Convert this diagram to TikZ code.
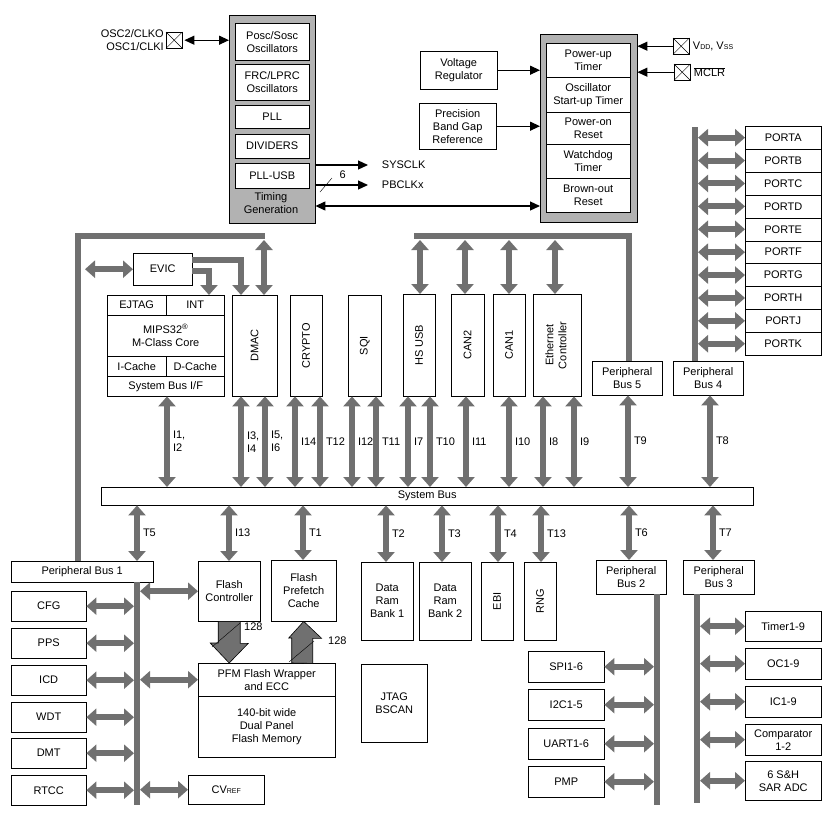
\documentclass[tikz,border=0pt]{standalone}
\usepackage{fontspec}
\setmainfont{Liberation Sans}
\usetikzlibrary{arrows.meta}
\definecolor{busgray}{RGB}{112,112,112}
\definecolor{boxgray}{RGB}{178,178,178}
\begin{document}
\begin{tikzpicture}[x=1pt, y=-1pt, font=\fontsize{11}{13}\selectfont,
    blk/.style={draw, align=center, inner sep=1pt, anchor=north west},
    bus/.style={busgray, line width=6pt, {Triangle[width=17pt,length=10pt]}-{Triangle[width=17pt,length=10pt]}},
    trunk/.style={busgray, line width=6pt},
    feed/.style={busgray, line width=6pt, -{Triangle[width=17pt,length=10pt]}},
    sig/.style={line width=1.2pt, -{Triangle[width=9pt,length=10pt]}},
    fat/.style={fill=busgray, draw=black, line width=0.6pt},
    xpin/.style={draw, minimum size=16pt, inner sep=0, anchor=north west}]
    \useasboundingbox (0,0) rectangle (837,825);

    % clock block
    \node[blk, fill=boxgray, minimum width=86pt, minimum height=208pt] (tgen) at (229,15) {};
    \node[blk, fill=white, minimum width=74pt, minimum height=37pt] (posc) at (235,23) {Posc/Sosc\\Oscillators};
    \node[blk, fill=white, minimum width=74pt, minimum height=36pt] (frc) at (235,64) {FRC/LPRC\\Oscillators};
    \node[blk, fill=white, minimum width=74pt, minimum height=23pt] (pll) at (235,105) {PLL};
    \node[blk, fill=white, minimum width=74pt, minimum height=24pt] (div) at (235,134) {DIVIDERS};
    \node[blk, fill=white, minimum width=74pt, minimum height=25pt] (pllusb) at (235,163) {PLL-USB};
    \node[align=center, inner sep=0] (tlabel) at (271,203) {Timing\\Generation};
    \node[xpin] (xosc) at (166,32) {};
    \draw (xosc.north west) -- (xosc.south east) (xosc.south west) -- (xosc.north east);
    \node[anchor=east, align=right, inner sep=2pt] (osc) at (xosc.west) {OSC2/CLKO\\OSC1/CLKI};
    \draw[sig, {Triangle[width=9pt,length=10pt]}-{Triangle[width=9pt,length=10pt]}] ([xshift=2pt]xosc.east) -- (tgen.west |- xosc.east);
    \coordinate (sysclk) at (368,165);
    \coordinate (pbclk) at (368,185);
    \draw[sig] (tgen.east |- sysclk) -- (sysclk) node[right=10pt] (sysclkt) {SYSCLK};
    \draw[sig] (tgen.east |- pbclk) -- (pbclk) node[right=10pt] (pbclkt) {PBCLKx};
    \draw (320,192) -- (332,178) node[anchor=south west, xshift=4pt, yshift=-4pt] (six) {6};

    % reset block
    \node[blk, fill=boxgray, minimum width=97pt, minimum height=188pt] (rst) at (540,34) {};
    \node[blk, fill=white, minimum width=84pt, minimum height=34pt] (pwrup) at (546,43) {Power-up\\Timer};
    \node[blk, fill=white, minimum width=84pt, minimum height=35pt] (ost) at (546,77) {Oscillator\\Start-up Timer};
    \node[blk, fill=white, minimum width=84pt, minimum height=32pt] (por) at (546,112) {Power-on\\Reset};
    \node[blk, fill=white, minimum width=84pt, minimum height=34pt] (wdtm) at (546,144) {Watchdog\\Timer};
    \node[blk, fill=white, minimum width=84pt, minimum height=34pt] (bor) at (546,178) {Brown-out\\Reset};
    \node[blk, minimum width=77pt, minimum height=38pt] (vreg) at (420,51) {Voltage\\Regulator};
    \node[blk, minimum width=77pt, minimum height=46pt] (pbg) at (419,103) {Precision\\Band Gap\\Reference};
    \draw[sig] (vreg.east) -- (rst.west |- vreg.east);
    \draw[sig] (pbg.east) -- (rst.west |- pbg.east);
    \draw[sig, {Triangle[width=9pt,length=10pt]}-{Triangle[width=9pt,length=10pt]}] (tgen.east |- 0,206) -- (rst.west |- 0,206);
    \node[xpin] (xvdd) at (673,38) {};
    \draw (xvdd.north west) -- (xvdd.south east) (xvdd.south west) -- (xvdd.north east);
    \node[anchor=west] (vdd) at (xvdd.east) {V{\scriptsize DD}, V{\scriptsize SS}};
    \node[xpin] (xmclr) at (674,64) {};
    \draw (xmclr.north west) -- (xmclr.south east) (xmclr.south west) -- (xmclr.north east);
    \node[anchor=west] (mclr) at (xmclr.east) {$\overline{\mbox{MCLR}}$};
    \draw[sig] (xvdd.west) -- (rst.east |- xvdd.west);
    \draw[sig] (xmclr.west) -- (rst.east |- xmclr.west);

    % ports
    \foreach \p [count=\i from 0] in {A,B,C,D,E,F,G,H,J,K} {
        \node[blk, minimum width=76pt, minimum height=22.9pt] (port\p) at (745,126+22.9*\i) {PORT\p};
        \draw[bus] (698,0 |- port\p.west) -- (port\p.west);
    }
    \node[blk, minimum width=70pt, minimum height=34pt] (pb4) at (673,361) {Peripheral\\Bus 4};
    \node[blk, minimum width=70pt, minimum height=34pt] (pb5) at (592,361) {Peripheral\\Bus 5};
    \draw[trunk] (695,0 |- pb4.north) -- (695,127);

    % upper modules
    \node[blk, minimum width=32pt, minimum height=102pt] (hsusb) at (403,294) {\rotatebox{90}{HS USB}};
    \node[blk, minimum width=33pt, minimum height=102pt] (can2) at (451,294) {\rotatebox{90}{CAN2}};
    \node[blk, minimum width=32pt, minimum height=102pt] (can1) at (493,294) {\rotatebox{90}{CAN1}};
    \node[blk, minimum width=48pt, minimum height=102pt] (eth) at (533,294) {\rotatebox{90}{\begin{tabular}{@{}c@{}}Ethernet\\Controller\end{tabular}}};
    \node[blk, minimum width=59pt, minimum height=32pt] (evic) at (133,253) {EVIC};
    \node[blk, minimum width=59pt, minimum height=20pt] (ejtag) at (107,295) {EJTAG};
    \node[blk, minimum width=58pt, minimum height=20pt] (int) at (166,295) {INT};
    \node[blk, minimum width=117pt, minimum height=41pt] (mips) at (107,315) {MIPS32\textsuperscript{\textregistered}\\M-Class Core};
    \node[blk, minimum width=59pt, minimum height=20pt] (icache) at (107,356) {I-Cache};
    \node[blk, minimum width=58pt, minimum height=20pt] (dcache) at (166,356) {D-Cache};
    \node[blk, minimum width=117pt, minimum height=20pt] (sbif) at (107,376) {System Bus I/F};
    \node[blk, minimum width=45pt, minimum height=101pt] (dmac) at (232,295) {\rotatebox{90}{DMAC}};
    \node[blk, minimum width=32pt, minimum height=101pt] (crypto) at (290,295) {\rotatebox{90}{CRYPTO}};
    \node[blk, minimum width=33pt, minimum height=101pt] (sqi) at (348,295) {\rotatebox{90}{SQI}};
    \node[blk, minimum width=652pt, minimum height=18pt] (sysbus) at (101,487) {System Bus};

    \draw[trunk] (78,561) -- (78,236) -- (265,236);
    \draw[trunk] (414,236) -- (629,236) -- (629,0 |- pb5.north);
    \draw[bus] (evic.west) -- (85,0 |- evic.west);
    \draw[feed] (evic.east |- 0,260) -- (241,260) -- (241,0 |- dmac.north);
    \draw[feed] (evic.east |- 0,271) -- (209,271) -- (209,0 |- int.north);
    \foreach \x/\m in {264/dmac, 420/hsusb, 465/can2, 509/can1, 555/eth}
        \draw[bus] (\x,240) -- (\x,0 |- \m.north);

    % module to system bus
    \foreach \x/\m/\lab in {167/sbif/{I1,\\I2}, 241/dmac/{I3,\\I4}, 265/dmac/{I5,\\I6}, 295/crypto/I14, 320/crypto/T12,
        352/sqi/I12, 376/sqi/T11, 408/hsusb/I7, 430/hsusb/T10, 466/can2/I11, 509/can1/I10, 543/eth/I8, 574/eth/I9,
        628/pb5/T9, 710/pb4/T8}
        \draw[bus] (\x,0 |- \m.south) -- (\x,0 |- sysbus.north)
            node[midway, right=3pt, black, align=left, inner sep=0] {\lab};

    % lower modules
    \node[blk, minimum width=142pt, minimum height=21pt] (pb1) at (11,561) {Peripheral Bus 1};
    \node[blk, minimum width=62pt, minimum height=60pt] (fctrl) at (198,561) {Flash\\Controller};
    \node[blk, minimum width=65pt, minimum height=61pt] (fpc) at (271,560) {Flash\\Prefetch\\Cache};
    \node[blk, minimum width=52pt, minimum height=78pt] (ram1) at (361,562) {Data\\Ram\\Bank 1};
    \node[blk, minimum width=52pt, minimum height=78pt] (ram2) at (419,562) {Data\\Ram\\Bank 2};
    \node[blk, minimum width=32pt, minimum height=78pt] (ebi) at (481,562) {\rotatebox{90}{EBI}};
    \node[blk, minimum width=32pt, minimum height=78pt] (rng) at (524,562) {\rotatebox{90}{RNG}};
    \node[blk, minimum width=70pt, minimum height=34pt] (pb2) at (596,560) {Peripheral\\Bus 2};
    \node[blk, minimum width=71pt, minimum height=34pt] (pb3) at (683,560) {Peripheral\\Bus 3};
    \foreach \x/\m/\lab in {137/pb1/T5, 229/fctrl/I13, 303/fpc/T1, 386/ram1/T2, 442/ram2/T3, 498/ebi/T4,
        541/rng/T13, 629/pb2/T6, 713/pb3/T7}
        \draw[bus] (\x,0 |- sysbus.south) -- (\x,0 |- \m.north)
            node[midway, right=3pt, black, inner sep=0] {\lab};

    \node[blk, minimum width=137pt, minimum height=33pt] (pfm) at (198,663) {PFM Flash Wrapper\\and ECC};
    \node[blk, minimum width=137pt, minimum height=61pt] (fmem) at (198,696) {140-bit wide\\Dual Panel\\Flash Memory};
    \node[blk, minimum width=66pt, minimum height=78pt] (jtag) at (361,664) {JTAG\\BSCAN};
    \filldraw[fat] ([xshift=-11pt]fctrl.south) -- ++(22,0) -- ++(0,22) -- ++(8,0) -- (pfm.north -| fctrl.south)
        -- ++(-19,-20) -- ++(8,0) -- cycle;
    \draw (212,647) -- (240,623) node[anchor=north west, xshift=4pt, inner sep=0] (w1) {128};
    \filldraw[fat] ([xshift=-12pt]pfm.north -| fpc.south) -- ++(0,-25) -- ++(-3,0) -- (fpc.south)
        -- ++(18,17) -- ++(-9,0) -- ++(0,25) -- cycle;
    \draw (289,662) -- (314,641) node[right=14pt, inner sep=0] (w2) {128};

    % peripheral bus 1
    \draw[trunk] (pb1.south -| 137,0) -- (137,805);
    \foreach \n/\t/\y in {cfg/CFG/591, pps/PPS/628, icd/ICD/665, wdt/WDT/702, dmt/DMT/738, rtcc/RTCC/775} {
        \node[blk, minimum width=75pt, minimum height=30pt] (\n) at (11,\y) {\t};
        \draw[bus] (\n.east) -- (134,0 |- \n.east);
    }
    \node[blk, minimum width=76pt, minimum height=29pt] (cvref) at (188,775) {CV{\scriptsize REF}};
    \draw[bus] (140,0 |- fctrl.west) -- (fctrl.west);
    \draw[bus] (140,0 |- pfm.west) -- (pfm.west);
    \draw[bus] (140,0 |- cvref.west) -- (cvref.west);

    % peripheral bus 2
    \draw[trunk] (pb2.south -| 657,0) -- (657,805);
    \foreach \n/\t/\y in {spi/SPI1-6/651, iic/I2C1-5/689, uart/UART1-6/728, pmp/PMP/766} {
        \node[blk, minimum width=76pt, minimum height=31pt] (\n) at (528,\y) {\t};
        \draw[bus] (\n.east) -- (654,0 |- \n.east);
    }

    % peripheral bus 3
    \draw[trunk] (pb3.south -| 697,0) -- (697,803);
    \foreach \n/\t/\y/\h in {tmr/Timer1-9/611/30, oc/OC1-9/648/31, ic/IC1-9/686/31,
        cmp/{Comparator\\1-2}/724/31, sar/{6 S\&H\\SAR ADC}/761/39} {
        \node[blk, minimum width=76pt, minimum height=\h pt] (\n) at (745,\y) {\t};
        \draw[bus] (700,0 |- \n.west) -- (\n.west);
    }
\end{tikzpicture}
\end{document}
